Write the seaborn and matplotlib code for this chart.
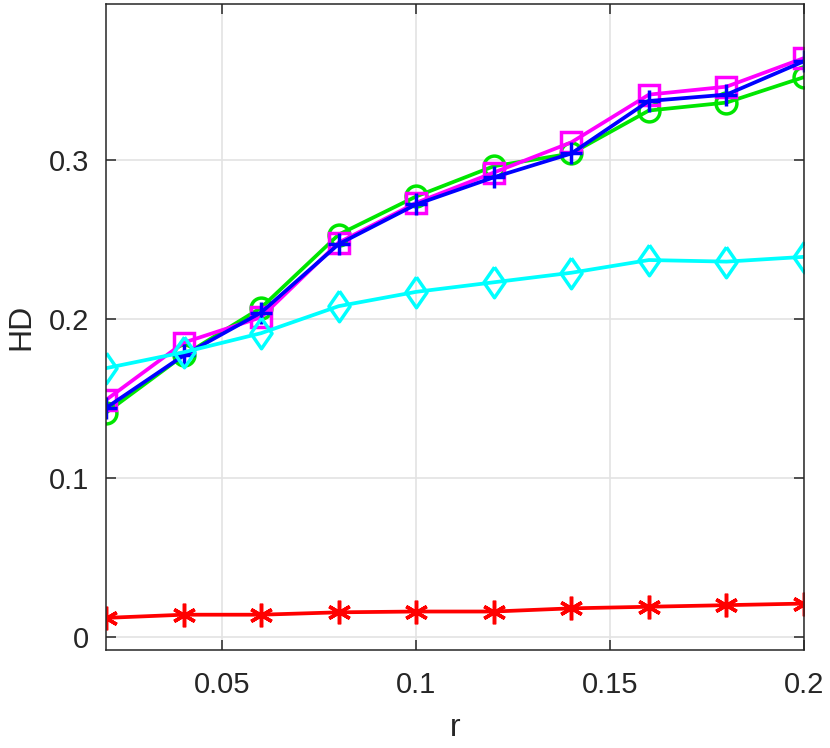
import numpy as np
import pandas as pd
import matplotlib
matplotlib.use("Agg")
import matplotlib.pyplot as plt
import seaborn as sns

# данные
r = [0.02, 0.04, 0.06, 0.08, 0.10, 0.12, 0.14, 0.16, 0.18, 0.20]
hd_green = [0.141, 0.177, 0.207, 0.253, 0.277, 0.296, 0.304, 0.331, 0.336, 0.352]
hd_magenta = [0.149, 0.185, 0.201, 0.248, 0.273, 0.292, 0.311, 0.341, 0.346, 0.364]
hd_blue = [0.144, 0.177, 0.204, 0.247, 0.272, 0.289, 0.304, 0.337, 0.341, 0.362]
hd_cyan = [0.169, 0.179, 0.191, 0.208, 0.217, 0.223, 0.229, 0.237, 0.236, 0.239]
hd_red = [0.012, 0.014, 0.014, 0.0155, 0.016, 0.016, 0.018, 0.019, 0.020, 0.021]

sns.set_style("ticks")
plt.rcParams['font.family'] = ['Liberation Sans', 'DejaVu Sans']

fig = plt.figure(figsize=(8.3, 7.48), dpi=100)
ax = fig.add_axes([0.1277, 0.131, 0.9687 - 0.1277, 0.9947 - 0.131])

# ромб как в matlab - чуть вытянутый по вертикали
diamond = [(0, 1), (0.69, 0), (0, -1), (-0.69, 0), (0, 1)]

series = [
    (hd_red, '#ff0000', (6, 2, 0), 17),
    (hd_green, '#00e600', 'o', 15),
    (hd_magenta, '#ff00ff', 's', 14),
    (hd_blue, '#0000ff', '+', 16),
    (hd_cyan, '#00ffff', diamond, 22),
]

for vals, col, mk, ms in series:
    df = pd.DataFrame({'r': r, 'HD': vals})
    sns.lineplot(data=df, x='r', y='HD', ax=ax, color=col, linewidth=2.7,
                 marker=mk, markersize=ms, markerfacecolor='none',
                 markeredgecolor=col, markeredgewidth=2.5)

ax.set_xlim(0.02, 0.2)
ax.set_ylim(-0.0082, 0.398)
ax.set_xticks([0.05, 0.1, 0.15, 0.2])
ax.set_xticklabels(['0.05', '0.1', '0.15', '0.2'])
ax.set_yticks([0, 0.1, 0.2, 0.3])
ax.set_yticklabels(['0', '0.1', '0.2', '0.3'])

ax.grid(True, color='#e3e3e3', linewidth=1.2)
ax.set_axisbelow(True)
for s in ax.spines.values():
    s.set_visible(True)
    s.set_color('#262626')
    s.set_linewidth(1.1)
ax.tick_params(direction='in', length=7, width=1.1, colors='#262626',
               labelsize=21, top=True, right=True)
ax.tick_params(axis='x', pad=15)
ax.tick_params(axis='y', pad=12)

ax.set_xlabel('r', fontsize=23, color='#262626', labelpad=10)
ax.set_ylabel('HD', fontsize=23, color='#262626', labelpad=9)

fig.savefig('out.png', dpi=100)
